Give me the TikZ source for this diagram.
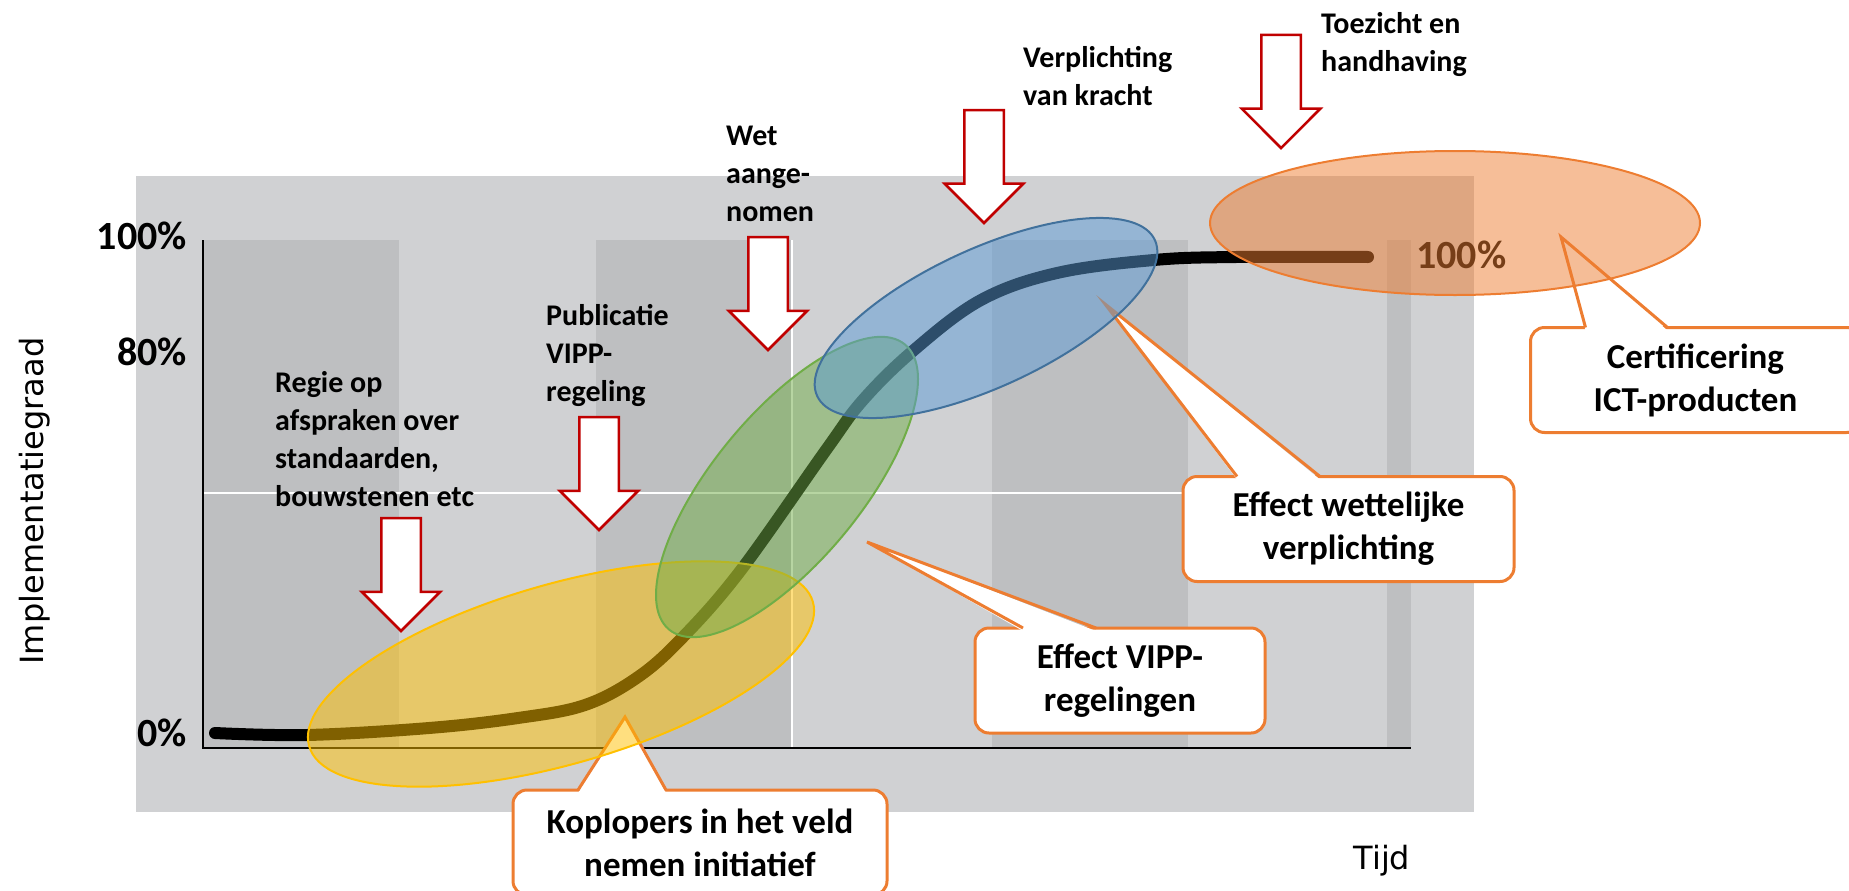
\documentclass[tikz,border=0pt]{standalone}
\usepackage{fontspec}
\setmainfont{Carlito}
\newfontfamily\asfont{DejaVu Sans}
\usetikzlibrary{arrows,calc,positioning,shapes.arrows}
\definecolor{achtergrond}{RGB}{208,209,211}
\definecolor{band}{RGB}{190,191,193}
\definecolor{pijlrood}{RGB}{192,0,0}
\definecolor{kaderoranje}{RGB}{237,125,49}
\definecolor{geel}{RGB}{255,192,0}
\definecolor{groen}{RGB}{112,173,71}
\definecolor{blauw}{RGB}{91,155,213}
\definecolor{blauwrand}{RGB}{65,113,156}
\tikzstyle{pijl}=[single arrow,draw=pijlrood,fill=white,line width=2.5,inner sep=18.5,outer sep=0,minimum width=76,minimum height=113,single arrow head extend=19.5,single arrow tip angle=90,shape border rotate=270,anchor=tip]
\tikzstyle{stap}=[align=left,anchor=north west,inner sep=0,font=\fontsize{30}{38}\selectfont\bfseries]
\tikzstyle{kader}=[rectangle,rounded corners=14,draw=kaderoranje,fill=white,line width=3,outer sep=0,align=center,minimum height=105,font=\fontsize{35}{43}\selectfont\bfseries]
\tikzstyle{punt}=[fill=white]
\tikzstyle{puntrand}=[draw=kaderoranje,line width=3,line join=miter]
\tikzstyle{zone}=[line width=2,fill opacity=.5]
\tikzstyle{as}=[font=\fontsize{32}{38}\selectfont\asfont]
\tikzstyle{schaal}=[anchor=east,inner sep=0,font=\fontsize{40}{44}\selectfont\bfseries]

\begin{document}
\begin{tikzpicture}[x=1pt,y=-1pt,>=latex]
	\useasboundingbox (0,0) rectangle (1849,891);
	% achtergrond en banden
	\fill[achtergrond] (136,176) rectangle (1474,812);
	\foreach \x in {203,596,992}
		\fill[band] (\x,240) rectangle ++(196,508);
	\fill[band] (1387,240) rectangle (1411,748);
	\draw[white,line width=2] (203,493) -- (1411,493);
	\draw[white,line width=2] (792,240) -- (792,748);
	% assen
	\coordinate (top) at (203,240);
	\coordinate (oorsprong) at (203,748);
	\coordinate (rechts) at (1411,748);
	\draw[line width=2] (top) -- (oorsprong) -- (rechts);
	\node[schaal] (p100) at (187,236) {100\%};
	\node[schaal] (p80) at (187,352) {80\%};
	\node[schaal] (p0) at (187,733) {0\%};
	\node[as,rotate=90] (yas) at (35,501) {Implementatiegraad};
	\node[as,anchor=west] (xas) at (1350,861) {Tijd};
	% S-curve
	\draw[line width=12,line cap=round] plot[smooth,tension=.6] coordinates {(215,733) (307,735) (429,728) (518,718) (585,705) (638,677) (683,637) (741,570) (826,450) (863,400) (914,350) (981,300) (1057,273) (1154,260) (1236,257) (1368,257)};
	\node[schaal,anchor=west] (eind) at (1416,255) {100\%};
	% kaders
	\node[kader,minimum width=374] (koplopers) at (700,842.5) {Koplopers in het veld\\nemen initiatief};
	\node[kader,minimum width=290] (vipp) at (1120,680.5) {Effect VIPP-\\regelingen};
	\node[kader,minimum width=331] (wettelijk) at (1348.5,529) {Effect wettelijke\\verplichting};
	\node[kader,minimum width=330] (cert) at (1695.5,380) {Certificering\\ICT-producten};
	\coordinate (koplopers punt) at (625,717);
	\coordinate (vipp punt) at (867,542);
	\coordinate (wettelijk punt) at (1105,304);
	\coordinate (cert punt) at (1561,237);
	\foreach \k/\a/\b in {koplopers/65/153,vipp/48/121,wettelijk/54/137,cert/55/137}{
		\fill[punt] ($(\k.north west)+(\a,3)$) -- (\k\space punt) -- ($(\k.north west)+(\b,3)$) -- cycle;
		\draw[puntrand] ($(\k.north west)+(\a,0)$) -- (\k\space punt) -- ($(\k.north west)+(\b,0)$);
	}
	% fasen
	\draw[zone,draw=geel,fill=geel,rotate around={16:(561,674)}] (561,674) ellipse [x radius=262,y radius=90];
	\draw[zone,draw=groen,fill=groen,rotate around={50.4:(787,487)}] (787,487) ellipse [x radius=185,y radius=74];
	\draw[zone,draw=blauwrand,fill=blauw,rotate around={24.8:(986,318)}] (986,318) ellipse [x radius=186,y radius=69];
	\draw[zone,draw=kaderoranje,fill=kaderoranje] (1455,223) ellipse [x radius=245,y radius=72];
	% pijlen
	\node[pijl] (regie pijl) at (401,631) {};
	\node[pijl] (publicatie pijl) at (599,530) {};
	\node[pijl] (wet pijl) at (768,350) {};
	\node[pijl] (verplichting pijl) at (984,223) {};
	\node[pijl] (toezicht pijl) at (1281,148) {};
	\node[stap] (regie) at (275,371) {Regie op\\afspraken over\\standaarden,\\bouwstenen etc};
	\node[stap] (publicatie) at (546,304) {Publicatie\\VIPP-\\regeling};
	\node[stap] (wet) at (726,126) {Wet\\aange-\\nomen};
	\node[stap] (verplichting) at (1023,46) {Verplichting\\van kracht};
	\node[stap] (toezicht) at (1321,12) {Toezicht en\\handhaving};
\end{tikzpicture}
\end{document}
